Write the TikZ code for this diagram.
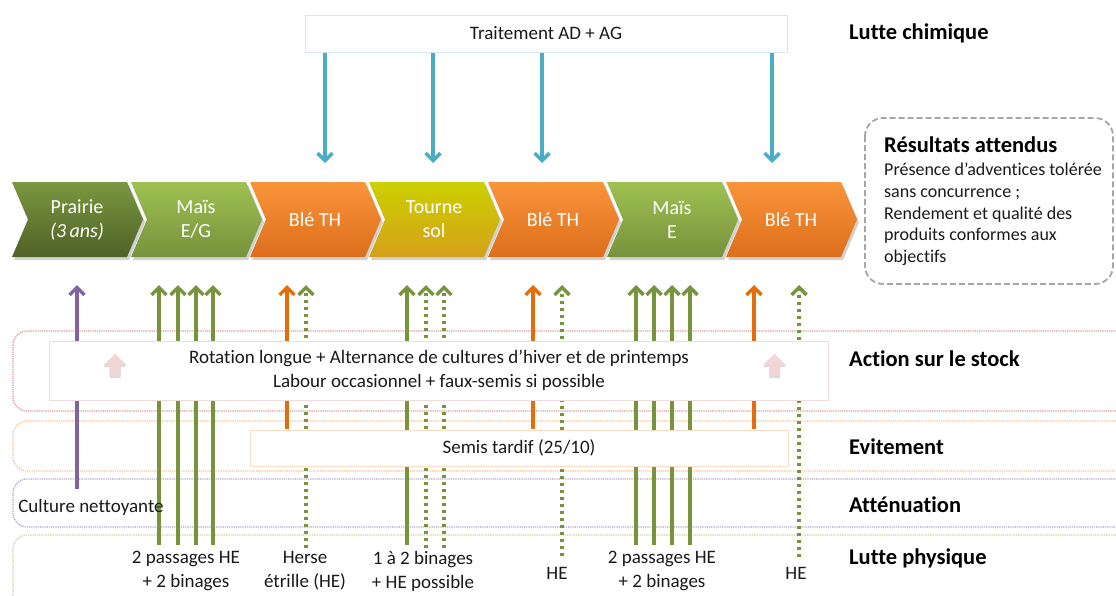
\documentclass[tikz,border=0pt]{standalone}
\usepackage{fontspec}
\setmainfont{Carlito}[Ligatures=NoCommon]
\usetikzlibrary{arrows.meta}
\definecolor{bluearr}{HTML}{4BACC6}
\definecolor{greenarr}{HTML}{77933C}
\definecolor{orangearr}{HTML}{E46C0A}
\definecolor{purplearr}{HTML}{8064A2}
\definecolor{bandred}{HTML}{D99694}
\definecolor{bandorange}{HTML}{FAC090}
\definecolor{bandpurple}{HTML}{B3A2C7}
\definecolor{bandgreen}{HTML}{C3D69B}
\definecolor{tbborder}{HTML}{D3E7EF}
\definecolor{stockborder}{HTML}{F2DCDB}
\definecolor{semisborder}{HTML}{FBDDC5}
\definecolor{pinkfill}{HTML}{F0D6D5}
\definecolor{resgray}{HTML}{A6A6A6}
\definecolor{prairieT}{HTML}{7A973F}
\definecolor{prairieB}{HTML}{4F6228}
\definecolor{maisT}{HTML}{9FC052}
\definecolor{maisB}{HTML}{76923C}
\definecolor{bleT}{HTML}{F9953A}
\definecolor{bleB}{HTML}{DD6E1C}
\definecolor{tournT}{HTML}{CCD000}
\definecolor{tournB}{HTML}{D5A01A}
\definecolor{txt}{HTML}{1A1A1A}
\tikzset{
  normaltext/.style={font=\fontsize{19}{24}\selectfont, text=txt, inner sep=0pt, align=center},
  bandlabel/.style={font=\bfseries\fontsize{22.5}{26}\selectfont, text=black, anchor=west, inner sep=0pt},
  chevtext/.style={font=\fontsize{20}{24}\selectfont, text=white, align=center, inner sep=0pt},
  arrowline/.style={line width=3.4pt, -{Straight Barb[length=7.5pt,width=15pt]}},
  bluearrow/.style={arrowline, draw=bluearr},
  greenup/.style={arrowline, draw=greenarr},
  orangeup/.style={arrowline, draw=orangearr},
  purpleup/.style={arrowline, draw=purplearr},
  dotup/.style={arrowline, draw=greenarr, dash pattern=on 3.5pt off 3.5pt},
  band/.style={line width=1.2pt, dash pattern=on 1.2pt off 1pt, rounded corners=14pt},
  innerbox/.style={fill=white, line width=1pt, inner sep=0pt},
  pinkup/.pic={
    \fill[black!40, opacity=0.35] (0,-9) -- (11.5,2) -- (5.5,2) -- (5.5,13) -- (-5.5,13) -- (-5.5,2) -- (-11.5,2) -- cycle;
    \fill[pinkfill] (0,-11) -- (11.5,0) -- (5.5,0) -- (5.5,11) -- (-5.5,11) -- (-5.5,0) -- (-11.5,0) -- cycle;
  }
}
\newcommand{\mychev}[5]{%
  \fill[black, opacity=0.18, xshift=2pt, yshift=-3pt] (#2,182) -- ++(115,0) -- ++(16,37.5) -- ++(-16,37.5) -- ++(-115,0) -- ++(16,-37.5) -- cycle;
  \shade[top color=#3, bottom color=#4] (#2,182) -- ++(115,0) -- ++(16,37.5) -- ++(-16,37.5) -- ++(-115,0) -- ++(16,-37.5) -- cycle;
  \node[chevtext] (#1) at ({#2+65},219.5) {#5};
}
\begin{document}
\begin{tikzpicture}[x=1pt, y=-1pt]
\clip (0,0) rectangle (1116,595);
\fill[white] (0,0) rectangle (1116,595);

% ---- bands ----
\draw[band, draw=bandred] (13,331) rectangle (1150,411);
\draw[band, draw=bandorange] (13,421) rectangle (1150,471);
\draw[band, draw=bandpurple] (13,479) rectangle (1150,527);
\draw[band, draw=bandgreen] (13,535) rectangle (1150,640);

% ---- chevrons ----
\mychev{c1}{12}{prairieT}{prairieB}{Prairie\\{\itshape(3\,ans)}}
\mychev{c2}{131}{maisT}{maisB}{Maïs\\E/G}
\mychev{c3}{250}{bleT}{bleB}{Blé TH}
\mychev{c4}{369}{tournT}{tournB}{Tourne\\sol}
\mychev{c5}{488}{bleT}{bleB}{Blé TH}
\mychev{c6}{607}{maisT}{maisB}{Maïs\\E}
\mychev{c7}{726}{bleT}{bleB}{Blé TH}

% ---- top box and blue arrows ----
\node[innerbox, draw=tbborder, minimum width=482pt, minimum height=37pt] (tb) at (546,33.5) {};
\node[normaltext] (tbt) at (tb.center) {Traitement AD + AG};
\foreach \i/\x in {1/325, 2/433, 3/542, 4/772} {
  \coordinate (b\i) at (\x,163);
  \draw[bluearrow] (tb.south -| b\i) -- (b\i);
}

% ---- up arrows ----
\foreach \n/\x/\y/\s in {p1/77/489/purpleup,
  g1/159/545/greenup, g2/178/545/greenup, g3/196/545/greenup, g4/213/545/greenup,
  o1/287/429/orangeup, d1/306/548/dotup,
  g5/407/545/greenup, d2/426/548/dotup, d3/444/548/dotup,
  o2/533/429/orangeup, d4/562/556/dotup,
  g6/636/545/greenup, g7/654/545/greenup, g8/672/545/greenup, g9/690/545/greenup,
  o3/754/429/orangeup, d5/799/557/dotup} {
  \coordinate (\n-bot) at (\x,\y);
  \coordinate (\n-top) at (\x,285);
  \draw[\s] (\n-bot) -- (\n-top);
}

% ---- inner boxes ----
\node[innerbox, draw=stockborder, minimum width=779pt, minimum height=59pt] (stock) at (438.5,370.5) {};
\node[normaltext] (stockt) at (439,370) {Rotation longue + Alternance de cultures d’hiver et de printemps\\Labour occasionnel + faux-semis si possible};
\pic at (115,365) {pinkup};
\pic at (774.5,365) {pinkup};
\node[innerbox, draw=semisborder, minimum width=538pt, minimum height=36pt] (semis) at (519,448) {};
\node[normaltext] (semist) at (semis.center) {Semis tardif (25/10)};

% ---- results box ----
\draw[resgray, line width=1.8pt, dash pattern=on 6pt off 3pt, rounded corners=18pt] (865,118) rectangle (1113,284);
\node[font=\bfseries\fontsize{22.5}{26}\selectfont, anchor=west, inner sep=0pt] (rest) at (884,145) {Résultats attendus};
\node[font=\fontsize{18}{21.6}\selectfont, anchor=north west, align=left, inner sep=0pt, text=txt] (resb) at (884,163) {Présence d’adventices tolérée\\sans concurrence ;\\Rendement et qualité des\\produits conformes aux\\objectifs};

% ---- band labels ----
\node[bandlabel] (l1) at (849,33) {Lutte chimique};
\node[bandlabel] (l2) at (849,359) {Action sur le stock};
\node[bandlabel] (l3) at (849,447) {Evitement};
\node[bandlabel] (l4) at (849,505) {Atténuation};
\node[bandlabel] (l5) at (849,558) {Lutte physique};

% ---- bottom labels ----
\node[normaltext] (cn) at (91,507) {Culture nettoyante};
\node[normaltext] (lp1) at (186,571) {2 passages HE\\+ 2 binages};
\node[normaltext] (lp2) at (305,571) {Herse\\étrille (HE)};
\node[normaltext] (lp3) at (423,571) {1 à 2 binages\\+ HE possible};
\node[normaltext] (lp4) at (557,573) {HE};
\node[normaltext] (lp5) at (662,571) {2 passages HE\\+ 2 binages};
\node[normaltext] (lp6) at (796,573) {HE};
\end{tikzpicture}
\end{document}
